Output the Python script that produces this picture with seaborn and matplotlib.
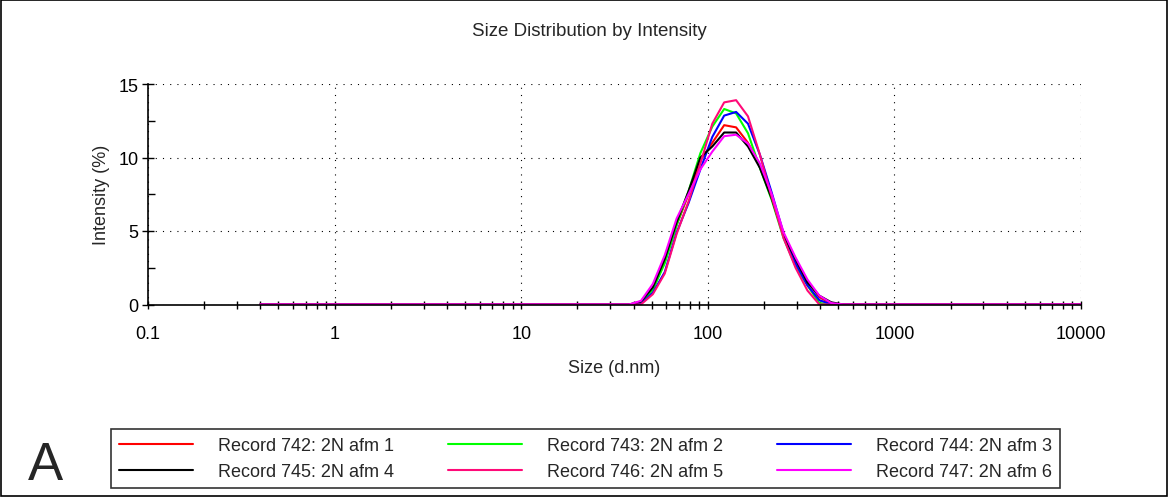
import matplotlib
matplotlib.use("Agg")
import matplotlib.pyplot as plt
from matplotlib.patches import Rectangle
from matplotlib.lines import Line2D
import numpy as np
import pandas as pd
import seaborn as sns

# Instrument size classes (d.nm)
sizes = [0.4, 0.4632, 0.5365, 0.6213, 0.7195, 0.8332, 0.9649, 1.117, 1.294, 1.499,
         1.736, 2.010, 2.328, 2.696, 3.122, 3.615, 4.187, 4.849, 5.615, 6.503,
         7.531, 8.721, 10.10, 11.70, 13.54, 15.69, 18.17, 21.04, 24.36, 28.21,
         32.67, 37.84, 43.82, 50.75, 58.77, 68.06, 78.82, 91.28, 105.7, 122.4,
         141.8, 164.2, 190.1, 220.2, 255.0, 295.3, 342.0, 396.1, 458.7, 531.2,
         615.1, 712.4, 825.0, 955.4, 1106, 1281, 1484, 1718, 1990, 2305,
         2669, 3091, 3580, 4145, 4801, 5560, 6439, 7456, 8635, 10000]

# Non-zero part of each distribution, classes 43.82 .. 458.7 nm
rec742 = [0.15, 1.05, 2.9, 5.4, 7.5, 9.8, 11.0, 12.2, 12.05, 11.0, 9.5, 7.3, 4.8, 3.0, 1.6, 0.5, 0.05]
rec743 = [0.1, 1.0, 2.8, 5.4, 7.7, 10.3, 12.1, 13.3, 13.0, 11.65, 9.3, 7.1, 4.5, 2.6, 1.3, 0.1, 0.0]
rec744 = [0.05, 0.8, 2.2, 4.9, 6.9, 9.2, 11.4, 12.85, 13.1, 12.3, 10.2, 7.6, 4.8, 2.8, 1.3, 0.3, 0.0]
rec745 = [0.2, 1.17, 3.1, 5.6, 7.7, 10.0, 10.75, 11.7, 11.7, 10.75, 9.3, 7.2, 4.7, 3.1, 1.5, 0.6, 0.15]
rec746 = [0.0, 0.7, 2.1, 4.8, 7.0, 9.6, 12.3, 13.75, 13.9, 12.8, 10.2, 7.3, 4.5, 2.5, 0.95, 0.0, 0.0]
rec747 = [0.25, 1.4, 3.35, 5.85, 7.5, 9.2, 10.4, 11.45, 11.55, 10.95, 9.6, 7.5, 4.9, 3.2, 1.7, 0.6, 0.1]
peak_start = 32  # index of 43.82 nm in sizes

labels = ["Record 742: 2N afm 1", "Record 743: 2N afm 2", "Record 744: 2N afm 3",
          "Record 745: 2N afm 4", "Record 746: 2N afm 5", "Record 747: 2N afm 6"]
colors = ["#FF0000", "#00FF00", "#0000FF", "#000000", "#FF0A78", "#FF00FF"]
series = [rec742, rec743, rec744, rec745, rec746, rec747]

xticks = [0.1, 1, 10, 100, 1000, 10000]
xticklabels = ["0.1", "1", "10", "100", "1000", "10000"]
yticks = [0, 5, 10, 15]

sns.set_style("white")
plt.rcParams["font.family"] = ["Liberation Sans", "DejaVu Sans"]
plt.rcParams["font.size"] = 13

fig = plt.figure(figsize=(11.73, 5.02), dpi=100)
ax = fig.add_axes([148 / 1173, 1 - 305.5 / 502, (1081 - 148) / 1173, (305.5 - 85) / 502])

frames = []
for lab, vals in zip(labels, series):
    full = np.zeros(len(sizes))
    full[peak_start:peak_start + len(vals)] = vals
    frames.append(pd.DataFrame({"size": sizes, "intensity": full, "record": lab}))
df = pd.concat(frames, ignore_index=True)

for lab, col in zip(labels, colors):
    sns.lineplot(data=df[df["record"] == lab], x="size", y="intensity",
                 color=col, linewidth=1.5, ax=ax, legend=False)

ax.set_xscale("log")
ax.set_xlim(0.1, 10000)
ax.set_ylim(0, 15)
ax.set_xticks(xticks)
ax.set_xticklabels(xticklabels)
ax.xaxis.set_minor_locator(matplotlib.ticker.LogLocator(base=10, subs=np.arange(2, 10)))
ax.xaxis.set_minor_formatter(matplotlib.ticker.NullFormatter())
ax.set_yticks(yticks)
ax.set_yticks([2.5, 7.5, 12.5], minor=True)

ax.grid(True, which="major", color="black", linestyle=(0, (1, 5.5)), linewidth=0.8)
for s in ["top", "right"]:
    ax.spines[s].set_visible(False)
for s in ["left", "bottom"]:
    ax.spines[s].set_color("black")
    ax.spines[s].set_linewidth(1.2)

ax.tick_params(axis="x", which="both", direction="inout", length=6, width=1,
               colors="black", pad=12, labelsize=13, bottom=True)
ax.tick_params(axis="y", which="major", direction="inout", length=8, width=1,
               colors="black", pad=3, labelsize=13, left=True)
ax.tick_params(axis="y", which="minor", direction="in", length=5, width=1,
               colors="black", left=True)

ax.set_xlabel("Size (d.nm)", fontsize=13, labelpad=12)
ax.set_ylabel("Intensity (%)", fontsize=13, labelpad=6)
fig.text(589 / 1173, 1 - 32 / 502, "Size Distribution by Intensity",
         ha="center", va="center", fontsize=13.5)

# legend filled row by row: 742 743 744 / 745 746 747
order = [0, 3, 1, 4, 2, 5]
handles = [Line2D([], [], color=colors[i], linewidth=1.5) for i in order]
leg_labels = [labels[i] for i in order]
leg = fig.legend(handles, leg_labels, ncol=3, mode="expand",
                 bbox_to_anchor=(111 / 1173, 1 - 491 / 502, (1060 - 111) / 1173, (491 - 428) / 502),
                 loc="center", fontsize=13, frameon=True, fancybox=False,
                 edgecolor="black", handlelength=4.1, handletextpad=1.4,
                 borderpad=0.45, labelspacing=0.5, borderaxespad=0)
leg.get_frame().set_linewidth(1.2)

fig.text(45 / 1173, 1 - 466 / 502, "A", ha="center", va="center", fontsize=38)

fig.patches.append(Rectangle((1 / 1173, 1 - 497 / 502), 1166 / 1173, 496 / 502,
                             transform=fig.transFigure, fill=False,
                             edgecolor="black", linewidth=1.2))

fig.savefig("out.png", dpi=100)
